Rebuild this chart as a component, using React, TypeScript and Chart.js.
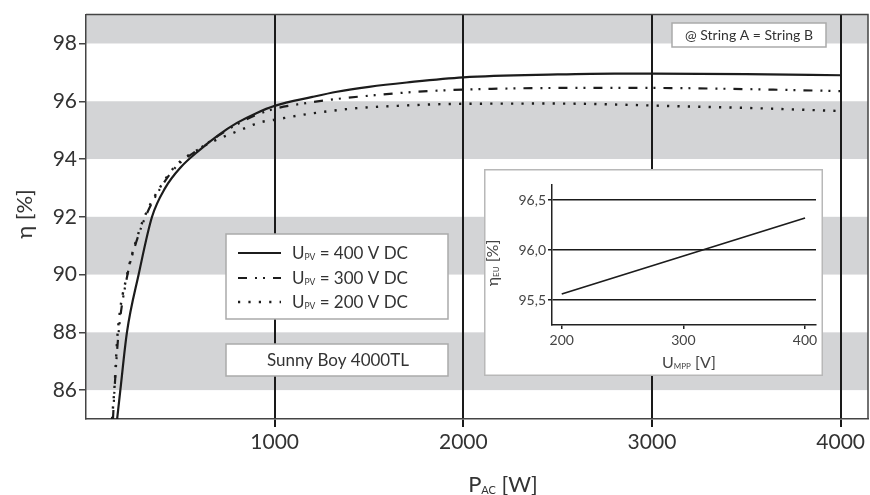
import React, { useEffect, useRef } from "react";
import { Chart, registerables } from "chart.js";

Chart.register(...registerables);

const FONT = "Lato, 'Open Sans', sans-serif";
const TEXT_COLOR = "#333";
const BAND_COLOR = "#d3d4d6";
const LINE_COLOR = "#1c1c1c";

// ---- main chart data ----
const X_TICKS = [1000, 2000, 3000, 4000];
const Y_TICKS = [86, 88, 90, 92, 94, 96, 98];
const GRAY_BANDS: [number, number][] = [
  [86, 88],
  [90, 92],
  [94, 96],
  [98, 99],
];

const P_400 = [165, 182, 217, 279, 350, 420, 500, 600, 700, 800, 900, 1000, 1200, 1330, 1500, 1700, 2000, 2500, 2800, 3000, 3500, 4000];
const ETA_400 = [85.0, 86.0, 88.0, 90.0, 92.0, 93.0, 93.7, 94.3, 94.82, 95.25, 95.58, 95.84, 96.15, 96.33, 96.5, 96.65, 96.83, 96.93, 96.96, 96.96, 96.94, 96.9];

const P_300 = [143, 151, 173, 220, 265, 315, 400, 480, 600, 700, 800, 900, 1000, 1120, 1330, 1530, 1735, 1940, 2150, 2500, 3000, 3500, 3800, 4000];
const ETA_300 = [85.0, 86.0, 88.0, 90.0, 91.1, 92.0, 93.05, 93.75, 94.35, 94.8, 95.2, 95.52, 95.74, 95.89, 96.08, 96.21, 96.32, 96.39, 96.43, 96.46, 96.46, 96.42, 96.38, 96.35];

const P_200 = [138, 150, 168, 218, 262, 310, 400, 480, 600, 676, 817, 923, 1000, 1188, 1417, 1682, 1965, 2500, 2962, 3068, 3500, 3958, 4000];
const ETA_200 = [85.0, 86.0, 88.0, 90.0, 91.1, 92.0, 93.1, 93.8, 94.35, 94.62, 95.0, 95.27, 95.36, 95.57, 95.75, 95.85, 95.91, 95.92, 95.86, 95.84, 95.77, 95.67, 95.66];

const SERIES_VOLTAGES = ["400", "300", "200"];
const DEVICE_NAME = "Sunny Boy 4000TL";
const STRING_NOTE = "@ String A = String B";

// ---- inset chart data ----
const INSET_U = [200, 300, 400];
const INSET_ETA = [95.56, 95.94, 96.32];
const INSET_X_TICKS = [200, 300, 400];
const INSET_Y_TICKS = [95.5, 96.0, 96.5];

type Seg = { t: string; sub?: boolean };

function drawRich(
  ctx: CanvasRenderingContext2D,
  segs: Seg[],
  x: number,
  baseline: number,
  size: number,
  align: "left" | "center"
) {
  const subSize = size * 0.5;
  const widths = segs.map((s) => {
    ctx.font = `${s.sub ? subSize : size}px ${FONT}`;
    return ctx.measureText(s.t).width;
  });
  const total = widths.reduce((a, b) => a + b, 0);
  let cx = align === "center" ? x - total / 2 : x;
  ctx.textAlign = "left";
  ctx.textBaseline = "alphabetic";
  segs.forEach((s, i) => {
    ctx.font = `${s.sub ? subSize : size}px ${FONT}`;
    ctx.fillText(s.t, cx, s.sub ? baseline + size * 0.08 : baseline);
    cx += widths[i];
  });
}

const toXY = (xs: number[], ys: number[]) => xs.map((x, i) => ({ x, y: ys[i] }));

const DASHES: number[][] = [[], [9, 8, 2, 6, 2, 8], [2.2, 8.2]];

const mainPlugin = {
  id: "mainDecor",
  beforeDraw(chart: any) {
    const { ctx, chartArea: a, scales } = chart;
    const y = scales.y;
    ctx.save();
    ctx.fillStyle = "#fff";
    ctx.fillRect(0, 0, chart.width, chart.height);
    ctx.fillStyle = BAND_COLOR;
    for (const [lo, hi] of GRAY_BANDS) {
      const top = y.getPixelForValue(hi);
      const bot = y.getPixelForValue(lo);
      ctx.fillRect(a.left, top, a.right - a.left, bot - top);
    }
    ctx.restore();
  },
  afterDraw(chart: any) {
    const { ctx, chartArea: a } = chart;
    ctx.save();
    // frame top & right
    ctx.strokeStyle = "#444";
    ctx.lineWidth = 1.5;
    ctx.beginPath();
    ctx.moveTo(a.left, a.top);
    ctx.lineTo(a.right, a.top);
    ctx.lineTo(a.right, a.bottom);
    ctx.stroke();

    ctx.fillStyle = TEXT_COLOR;
    // y title
    ctx.save();
    ctx.translate(25, 214);
    ctx.rotate(-Math.PI / 2);
    ctx.font = `22px ${FONT}`;
    ctx.textAlign = "center";
    ctx.textBaseline = "middle";
    ctx.fillText("η [%]", 0, 0);
    ctx.restore();
    // x title
    drawRich(ctx, [{ t: "P" }, { t: "AC", sub: true }, { t: " [W]" }], 503, 492, 22, "center");

    // legend box
    const lx = 226, ly = 234, lw = 222, lh = 85;
    ctx.fillStyle = "#fff";
    ctx.fillRect(lx, ly, lw, lh);
    ctx.strokeStyle = "#aaa";
    ctx.lineWidth = 1.5;
    ctx.strokeRect(lx, ly, lw, lh);
    const rows = [253, 278, 302];
    chart.data.datasets.forEach((ds: any, i: number) => {
      const cy = rows[i];
      ctx.save();
      ctx.strokeStyle = LINE_COLOR;
      ctx.lineWidth = ds.borderWidth;
      ctx.setLineDash(ds.borderDash || []);
      ctx.beginPath();
      ctx.moveTo(238, cy);
      ctx.lineTo(281, cy);
      ctx.stroke();
      ctx.restore();
      ctx.fillStyle = TEXT_COLOR;
      drawRich(ctx, [{ t: "U" }, { t: "PV", sub: true }, { t: ` = ${SERIES_VOLTAGES[i]} V DC` }], 292, cy + 6, 17, "left");
    });

    // device box
    ctx.fillStyle = "#fff";
    ctx.fillRect(226, 344, 222, 32);
    ctx.strokeStyle = "#aaa";
    ctx.strokeRect(226, 344, 222, 32);
    ctx.fillStyle = TEXT_COLOR;
    ctx.font = `17px ${FONT}`;
    ctx.textAlign = "center";
    ctx.textBaseline = "alphabetic";
    ctx.fillText(DEVICE_NAME, 338, 366);

    // string note box
    ctx.fillStyle = "#fff";
    ctx.fillRect(672, 23, 154, 24);
    ctx.strokeStyle = "#aaa";
    ctx.strokeRect(672, 23, 154, 24);
    ctx.fillStyle = TEXT_COLOR;
    ctx.font = `14px ${FONT}`;
    ctx.fillText(STRING_NOTE, 749, 39.5);
    ctx.restore();
  },
};

const insetPlugin = {
  id: "insetDecor",
  beforeDraw(chart: any) {
    const { ctx } = chart;
    ctx.save();
    ctx.fillStyle = "#fff";
    ctx.fillRect(0, 0, chart.width, chart.height);
    ctx.strokeStyle = "#b8b8b8";
    ctx.lineWidth = 1.5;
    ctx.strokeRect(0.75, 0.75, chart.width - 1.5, chart.height - 1.5);
    ctx.restore();
  },
  afterDraw(chart: any) {
    const { ctx } = chart;
    ctx.save();
    ctx.fillStyle = "#444";
    ctx.save();
    ctx.translate(14, 94);
    ctx.rotate(-Math.PI / 2);
    drawRich(ctx, [{ t: "η" }, { t: "EU", sub: true }, { t: " [%]" }], 0, 0, 16, "center");
    ctx.restore();
    drawRich(ctx, [{ t: "U" }, { t: "MPP", sub: true }, { t: " [V]" }], 205, 199, 16, "center");
    ctx.restore();
  },
};

export default function App() {
  const mainRef = useRef<HTMLCanvasElement>(null);
  const insetRef = useRef<HTMLCanvasElement>(null);

  useEffect(() => {
    const tickFont = { family: FONT, size: 21 };
    const main = new Chart(mainRef.current!, {
      type: "line",
      data: {
        datasets: [
          { data: toXY(P_400, ETA_400), borderDash: DASHES[0], borderWidth: 2.2 },
          { data: toXY(P_300, ETA_300), borderDash: DASHES[1], borderWidth: 2.2 },
          { data: toXY(P_200, ETA_200), borderDash: DASHES[2], borderWidth: 2.4 },
        ].map((d) => ({
          ...d,
          borderColor: LINE_COLOR,
          pointRadius: 0,
          fill: false,
          cubicInterpolationMode: "monotone" as const,
          borderCapStyle: "butt" as const,
        })),
      },
      options: {
        animation: false,
        responsive: true,
        maintainAspectRatio: false,
        events: [],
        layout: { padding: { top: 9, right: 2, left: 0, bottom: 0 } },
        plugins: { legend: { display: false }, tooltip: { enabled: false } },
        scales: {
          x: {
            type: "linear",
            min: 0,
            max: 4145,
            afterBuildTicks: (s: any) => {
              s.ticks = X_TICKS.map((v) => ({ value: v }));
            },
            afterFit: (s: any) => {
              s.height = 76;
            },
            grid: { drawOnChartArea: true, color: "#1a1a1a", lineWidth: 2, tickLength: 8 },
            border: { display: true, color: "#444", width: 1.5 },
            ticks: {
              font: tickFont,
              color: TEXT_COLOR,
              padding: 3,
              maxRotation: 0,
              callback: (v: any) => String(v),
            },
          },
          y: {
            type: "linear",
            min: 85,
            max: 99,
            afterBuildTicks: (s: any) => {
              s.ticks = Y_TICKS.map((v) => ({ value: v }));
            },
            afterFit: (s: any) => {
              s.width = 86;
            },
            grid: { drawOnChartArea: false, color: "#444", lineWidth: 1.5, tickLength: 7 },
            border: { display: true, color: "#444", width: 1.5 },
            ticks: { font: tickFont, color: TEXT_COLOR, padding: 2, callback: (v: any) => String(v) },
          },
        },
      },
      plugins: [mainPlugin],
    });

    const inset = new Chart(insetRef.current!, {
      type: "line",
      data: {
        datasets: [
          {
            data: toXY(INSET_U, INSET_ETA),
            borderColor: LINE_COLOR,
            borderWidth: 1.8,
            pointRadius: 0,
            fill: false,
          },
        ],
      },
      options: {
        animation: false,
        responsive: true,
        maintainAspectRatio: false,
        events: [],
        layout: { padding: { top: 16, right: 7, left: 0, bottom: 0 } },
        plugins: { legend: { display: false }, tooltip: { enabled: false } },
        scales: {
          x: {
            type: "linear",
            min: 192,
            max: 409,
            afterBuildTicks: (s: any) => {
              s.ticks = INSET_X_TICKS.map((v) => ({ value: v }));
            },
            afterFit: (s: any) => {
              s.height = 51;
            },
            grid: { drawOnChartArea: false, color: "#222", lineWidth: 1.5, tickLength: 4 },
            border: { display: true, color: "#222", width: 1.5 },
            ticks: {
              font: { family: FONT, size: 14 },
              color: "#444",
              padding: 3,
              maxRotation: 0,
              callback: (v: any) => String(v),
            },
          },
          y: {
            type: "linear",
            min: 95.25,
            max: 96.65,
            afterBuildTicks: (s: any) => {
              s.ticks = INSET_Y_TICKS.map((v) => ({ value: v }));
            },
            afterFit: (s: any) => {
              s.width = 68;
            },
            grid: { drawOnChartArea: true, color: "#1a1a1a", lineWidth: 1.5, tickLength: 4 },
            border: { display: true, color: "#222", width: 1.5 },
            ticks: {
              font: { family: FONT, size: 14 },
              color: "#444",
              padding: 2,
              callback: (v: any) => Number(v).toFixed(1).replace(".", ","),
            },
          },
        },
      },
      plugins: [insetPlugin],
    });

    return () => {
      main.destroy();
      inset.destroy();
    };
  }, []);

  return (
    <div style={{ position: "fixed", left: 0, top: 0, width: 870, height: 495, background: "#fff" }}>
      <div style={{ position: "absolute", left: 0, top: 0, width: 870, height: 495 }}>
        <canvas ref={mainRef} />
      </div>
      <div style={{ position: "absolute", left: 484, top: 169, width: 339, height: 207 }}>
        <canvas ref={insetRef} />
      </div>
    </div>
  );
}
